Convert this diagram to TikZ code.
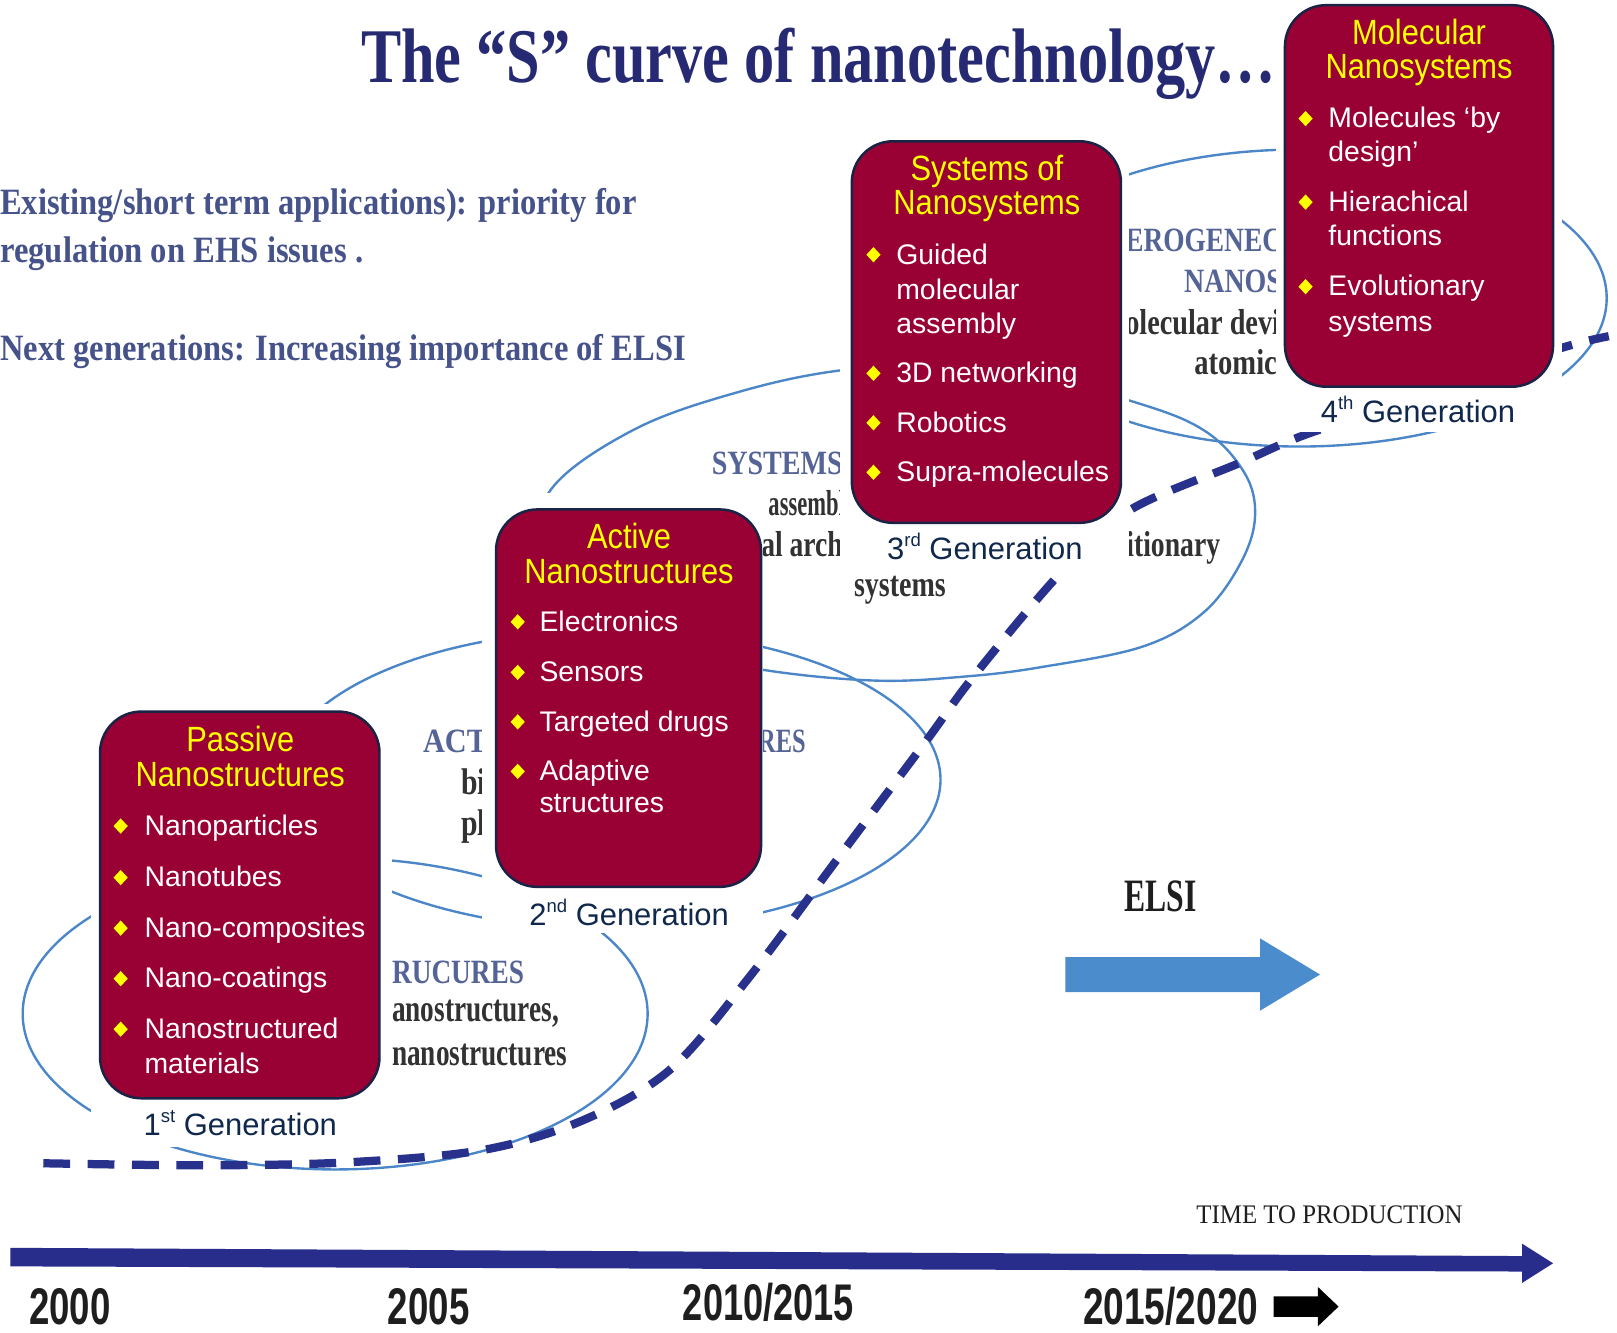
\documentclass[tikz,border=0pt]{standalone}
\usepackage{fontspec}
\usepackage{graphicx}
\usetikzlibrary{shapes.geometric}
\setmainfont{Liberation Sans}
\newfontfamily\tnr{Liberation Serif}
\newfontfamily\headfont[FakeStretch=0.88]{Liberation Sans}

\definecolor{burg}{RGB}{153,0,51}
\definecolor{boxedge}{RGB}{25,35,70}
\definecolor{ellblue}{RGB}{75,135,200}
\definecolor{curvenavy}{RGB}{40,50,140}
\definecolor{titlenavy}{RGB}{38,42,115}
\definecolor{slate}{RGB}{70,82,138}
\definecolor{headgrey}{RGB}{85,100,150}
\definecolor{bodygrey}{RGB}{50,50,50}
\definecolor{genlabel}{RGB}{15,40,75}
\definecolor{axisnavy}{RGB}{40,45,140}
\definecolor{elsiblue}{RGB}{75,140,205}
\definecolor{bulletyellow}{RGB}{255,255,0}
\definecolor{yeardark}{RGB}{30,30,30}

% text squeezed to a given width, natural height
\newcommand{\wfit}[3]{\resizebox{#1pt}{\height}{\fontsize{#2}{#2}\selectfont #3}}
\newcommand{\gensup}[1]{\raisebox{0.42em}{\fontsize{18}{18}\selectfont #1}}

\begin{document}
\begin{tikzpicture}[x=1pt,y=-1pt,
  genbox/.style={fill=burg, draw=boxedge, line width=2.4pt, rounded corners=40pt},
  bull/.style={shape=diamond, fill=bulletyellow, inner sep=0pt, minimum width=14pt, minimum height=15pt},
  boxitem/.style={anchor=base west, inner sep=0pt, text=white, font=\fontsize{27.5}{27.5}\selectfont},
  boxhead/.style={anchor=base, inner sep=0pt, text=bulletyellow, font=\headfont\fontsize{34}{34}\selectfont},
  genlbl/.style={anchor=base, inner sep=0pt, text=genlabel, font=\fontsize{30}{30}\selectfont},
  bgtext/.style={anchor=base west, inner sep=0pt},
  ell/.style={draw=ellblue, line width=2.3pt},
  panel/.style={fill=white},
]
\useasboundingbox (0,0) rectangle (1568,1292);
\fill[white] (0,0) rectangle (1568,1292);

% ---------- generation ellipses ----------
\draw[ell] (325,983) ellipse [x radius=303pt, y radius=151pt];
\draw[ell] (592,756) ellipse [x radius=320pt, y radius=145pt];
\draw[ell] plot[smooth cycle, tension=0.6] coordinates {
  (1217,501) (1203,546) (1167,594) (1108,627) (1009,647) (936,656) (850,660)
  (743,650) (640,628) (560,592) (520,545) (534,475) (614,417) (713,381)
  (816,359) (950,350) (1094,388) (1167,417) (1207,459)};
\draw[ell] (1260,289) ellipse [x radius=298pt, y radius=144pt];

% ---------- the S curve ----------
\draw[curvenavy, line width=8pt, dash pattern=on 26pt off 17pt]
  plot[smooth, tension=0.55] coordinates {
  (42,1128) (200,1130) (339,1127) (469,1115) (566,1086) (650,1037) (727,947)
  (812,833) (897,720) (944,656) (1028,556) (1095,495) (1202,449) (1270,420)
  (1400,378) (1509,339) (1560,326)};

% ---------- title and notes ----------
\node[bgtext, text=titlenavy] (title) at (350,80)
  {\tnr\bfseries\wfit{887}{75}{The “S” curve of nanotechnology…}};
\node[bgtext, text=slate] (note1) at (0,208)
  {\tnr\bfseries\wfit{617}{36}{Existing/short term applications): priority for}};
\node[bgtext, text=slate] (note2) at (0,255)
  {\tnr\bfseries\wfit{352}{36}{regulation on EHS issues .}};
\node[bgtext, text=slate] (note3) at (0,350)
  {\tnr\bfseries\wfit{665}{36}{Next generations: Increasing importance of ELSI}};

% ---------- fragments of the ellipse captions ----------
\node[bgtext, text=headgrey] (c1a) at (380,954) {\tnr\bfseries\wfit{128}{33}{RUCURES}};
\node[bgtext, text=bodygrey] (c1b) at (380,991) {\tnr\bfseries\wfit{162}{37}{anostructures,}};
\node[bgtext, text=bodygrey] (c1c) at (380,1033) {\tnr\bfseries\wfit{170}{37}{nanostructures}};
\node[bgtext, text=headgrey] (c2a) at (410,730) {\tnr\bfseries\wfit{62}{33}{ACT}};
\node[bgtext, text=bodygrey] (c2b) at (447,770) {\tnr\bfseries\wfit{24}{36}{bi}};
\node[bgtext, text=bodygrey] (c2c) at (447,810) {\tnr\bfseries\wfit{24}{36}{pl}};
\node[bgtext, text=headgrey] (c2d) at (735,730) {\tnr\bfseries\wfit{46}{33}{RES}};
\node[bgtext, text=headgrey] (c3a) at (690,460) {\tnr\bfseries\wfit{127}{33}{SYSTEMS}};
\node[bgtext, text=bodygrey] (c3b) at (745,500) {\tnr\bfseries\wfit{74}{35}{assembl}};
\node[bgtext, text=bodygrey] (c3c) at (738,540) {\tnr\bfseries\wfit{79}{35}{al arch}};
\node[bgtext, text=bodygrey] (c3d) at (828,578) {\tnr\bfseries\wfit{89}{35}{systems}};
\node[bgtext, text=bodygrey] (c3e) at (1092,540) {\tnr\bfseries\wfit{91}{35}{itionary}};
\node[bgtext, text=headgrey] (c4a) at (1091,244) {\tnr\bfseries\wfit{152}{33}{EROGENEC}};
\node[bgtext, text=headgrey] (c4b) at (1148,284) {\tnr\bfseries\wfit{95}{33}{NANOS}};
\node[bgtext, text=bodygrey] (c4c) at (1091,324) {\tnr\bfseries\wfit{150}{35}{olecular devi}};
\node[bgtext, text=bodygrey] (c4d) at (1158,363) {\tnr\bfseries\wfit{80}{35}{atomic}};

% ---------- ELSI arrow ----------
\node[bgtext, text=yeardark] (elsi) at (1090,884) {\tnr\bfseries\wfit{70}{45}{ELSI}};
\fill[elsiblue] (1033,928) -- (1222,928) -- (1222,910) -- (1280,945)
  -- (1222,980) -- (1222,962) -- (1033,962) -- cycle;

% ---------- white panels behind the boxes ----------
\fill[panel] (88,683) rectangle (380,1112);
\fill[panel] (467,478) rectangle (740,905);
\fill[panel] (815,130) rectangle (1095,553);
\fill[panel] (1237,0) rectangle (1515,419);

% ---------- 1st generation ----------
\node[genbox, minimum width=271pt, minimum height=375pt] (pbox) at (232.5,877.5) {};
\node[boxhead] (pt1) at (233,729) {Passive};
\node[boxhead] (pt2) at (233,763) {Nanostructures};
\node[bull] (pb1) at (117,801) {};  \node[boxitem] (pi1) at (140,810) {Nanoparticles};
\node[bull] (pb2) at (117,851) {};  \node[boxitem] (pi2) at (140,860) {Nanotubes};
\node[bull] (pb3) at (117,900) {};  \node[boxitem] (pi3) at (140,909) {Nano-composites};
\node[bull] (pb4) at (117,949) {};  \node[boxitem] (pi4) at (140,958) {Nano-coatings};
\node[bull] (pb5) at (117,998) {};  \node[boxitem] (pi5) at (140,1007) {Nanostructured};
\node[boxitem] (pi5b) at (140,1041) {materials};
\node[genlbl] (pg) at (233,1101) {1\gensup{st} Generation};

% ---------- 2nd generation ----------
\node[genbox, minimum width=257pt, minimum height=366pt] (abox) at (609.5,677) {};
\node[boxhead] (at1) at (610,532) {Active};
\node[boxhead] (at2) at (610,566) {Nanostructures};
\node[bull] (ab1) at (502,603) {};  \node[boxitem] (ai1) at (523,612) {Electronics};
\node[bull] (ab2) at (502,652) {};  \node[boxitem] (ai2) at (523,661) {Sensors};
\node[bull] (ab3) at (502,700) {};  \node[boxitem] (ai3) at (523,709) {Targeted drugs};
\node[bull] (ab4) at (502,748) {};  \node[boxitem] (ai4) at (523,757) {Adaptive};
\node[boxitem] (ai4b) at (523,788) {structures};
\node[genlbl] (ag) at (610,897) {2\gensup{nd} Generation};

% ---------- 3rd generation ----------
\node[genbox, minimum width=261pt, minimum height=370pt] (sbox) at (956.5,322) {};
\node[boxhead] (st1) at (957,175) {Systems of};
\node[boxhead] (st2) at (957,208) {Nanosystems};
\node[bull] (sb1) at (847,247) {};  \node[boxitem] (si1) at (869,256) {Guided};
\node[boxitem] (si1b) at (869,290) {molecular};
\node[boxitem] (si1c) at (869,323) {assembly};
\node[bull] (sb2) at (847,362) {};  \node[boxitem] (si2) at (869,371) {3D networking};
\node[bull] (sb3) at (847,410) {};  \node[boxitem] (si3) at (869,419) {Robotics};
\node[bull] (sb4) at (847,458) {};  \node[boxitem] (si4) at (869,467) {Supra-molecules};
\node[genlbl] (sg) at (955,543) {3\gensup{rd} Generation};

% ---------- 4th generation ----------
\node[genbox, minimum width=260pt, minimum height=370pt] (mbox) at (1376,190) {};
\node[boxhead] (mt1) at (1376,43) {Molecular};
\node[boxhead] (mt2) at (1376,76) {Nanosystems};
\node[bull] (mb1) at (1266,115) {};  \node[boxitem] (mi1) at (1288,124) {Molecules ‘by};
\node[boxitem] (mi1b) at (1288,157) {design’};
\node[bull] (mb2) at (1266,196) {};  \node[boxitem] (mi2) at (1288,205) {Hierachical};
\node[boxitem] (mi2b) at (1288,238) {functions};
\node[bull] (mb3) at (1266,278) {};  \node[boxitem] (mi3) at (1288,287) {Evolutionary};
\node[boxitem] (mi3b) at (1288,321) {systems};
\node[genlbl] (mg) at (1375,410) {4\gensup{th} Generation};

% ---------- time axis ----------
\node[bgtext, text=yeardark] (ttp) at (1160,1186) {\tnr\wfit{258}{26}{TIME TO PRODUCTION}};
\fill[axisnavy] (10,1210) -- (1476,1218) -- (1476,1206) -- (1506,1225)
  -- (1476,1244) -- (1476,1233) -- (10,1228) -- cycle;
\node[bgtext, text=yeardark] (y1) at (28,1284) {\wfit{79}{50}{\bfseries 2000}};
\node[bgtext, text=yeardark] (y2) at (376,1284) {\wfit{79}{50}{\bfseries 2005}};
\node[bgtext, text=yeardark] (y3) at (662,1280) {\wfit{166}{50}{\bfseries 2010/2015}};
\node[bgtext, text=yeardark] (y4) at (1050,1284) {\wfit{170}{50}{\bfseries 2015/2020}};
\fill[black] (1235,1257) -- (1278,1257) -- (1278,1248) -- (1298,1267)
  -- (1278,1286) -- (1278,1277) -- (1235,1277) -- cycle;
\end{tikzpicture}
\end{document}
